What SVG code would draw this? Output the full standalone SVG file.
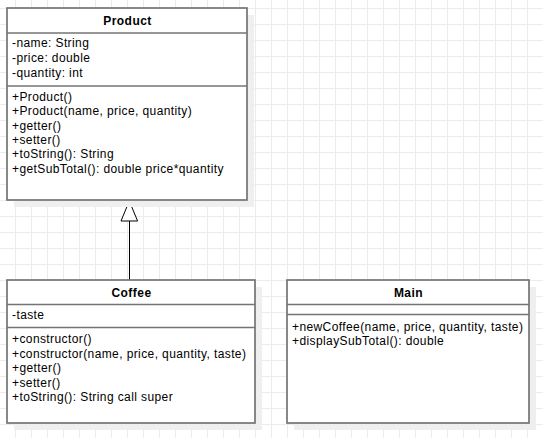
<svg xmlns="http://www.w3.org/2000/svg" width="543" height="438" viewBox="0 0 543 438">
  <defs>
    <pattern id="grid" x="0" y="0" width="16" height="16" patternUnits="userSpaceOnUse">
      <path d="M15.5 0 V16 M0 8.5 H16" stroke="#ececec" stroke-width="1" fill="none"/>
    </pattern>
    <style>
      .shadow { fill: #efefef; stroke: none; }
      .box { fill: #ffffff; stroke: #747474; stroke-width: 1.7; }
      .sep { stroke: #747474; stroke-width: 1.7; fill: none; }
      .title { font-family: "Liberation Sans", Arial, sans-serif; font-size: 12px; font-weight: bold; fill: #000; text-anchor: middle; letter-spacing: 0.45px; }
      .mem { font-family: "Liberation Sans", Arial, sans-serif; font-size: 12px; fill: #000; letter-spacing: 0.4px; }
      .edge { stroke: #000; stroke-width: 1; fill: none; }
      .head { stroke: #000; stroke-width: 1; fill: #fff; }
    </style>
  </defs>
  <rect width="543" height="438" fill="#ffffff"/>
  <rect width="543" height="438" fill="url(#grid)"/>

  <g id="connectors">
    <line class="edge" x1="129.5" y1="221" x2="129.5" y2="280"/>
    <polygon class="head" points="129.3,201 121,221 137.6,221"/>
  </g>

  <g id="product">
    <rect class="shadow" x="14" y="15" width="240" height="192"/>
    <rect class="box" x="7" y="8" width="240" height="192"/>
    <line class="sep" x1="7" y1="33" x2="247" y2="33"/>
    <line class="sep" x1="7" y1="86" x2="247" y2="86"/>
    <text class="title" x="127.5" y="25">Product</text>
    <text class="mem" x="12" y="47.3">-name: String</text>
    <text class="mem" x="12" y="62">-price: double</text>
    <text class="mem" x="12" y="76.6">-quantity: int</text>
    <text class="mem" x="12" y="100.7">+Product()</text>
    <text class="mem" x="12" y="115.1">+Product(name, price, quantity)</text>
    <text class="mem" x="12" y="129.5">+getter()</text>
    <text class="mem" x="12" y="143.9">+setter()</text>
    <text class="mem" x="12" y="158.3">+toString(): String</text>
    <text class="mem" x="12" y="172.7">+getSubTotal(): double price*quantity</text>
  </g>

  <g id="coffee">
    <rect class="shadow" x="14" y="287" width="248" height="143"/>
    <rect class="box" x="7" y="280" width="248" height="143"/>
    <line class="sep" x1="7" y1="304.5" x2="255" y2="304.5"/>
    <line class="sep" x1="7" y1="327.5" x2="255" y2="327.5"/>
    <text class="title" x="131.5" y="297">Coffee</text>
    <text class="mem" x="12" y="319.3">-taste</text>
    <text class="mem" x="12" y="343">+constructor()</text>
    <text class="mem" x="12" y="357.5">+constructor(name, price, quantity, taste)</text>
    <text class="mem" x="12" y="372">+getter()</text>
    <text class="mem" x="12" y="386.5">+setter()</text>
    <text class="mem" x="12" y="401">+toString(): String call super</text>
  </g>

  <g id="main">
    <rect class="shadow" x="294" y="287" width="242" height="143"/>
    <rect class="box" x="287" y="280" width="242" height="143"/>
    <line class="sep" x1="287" y1="304.5" x2="529" y2="304.5"/>
    <line class="sep" x1="287" y1="314.5" x2="529" y2="314.5"/>
    <text class="title" x="408.5" y="297">Main</text>
    <text class="mem" x="292" y="330.7">+newCoffee(name, price, quantity, taste)</text>
    <text class="mem" x="292" y="345.1">+displaySubTotal(): double</text>
  </g>
</svg>
